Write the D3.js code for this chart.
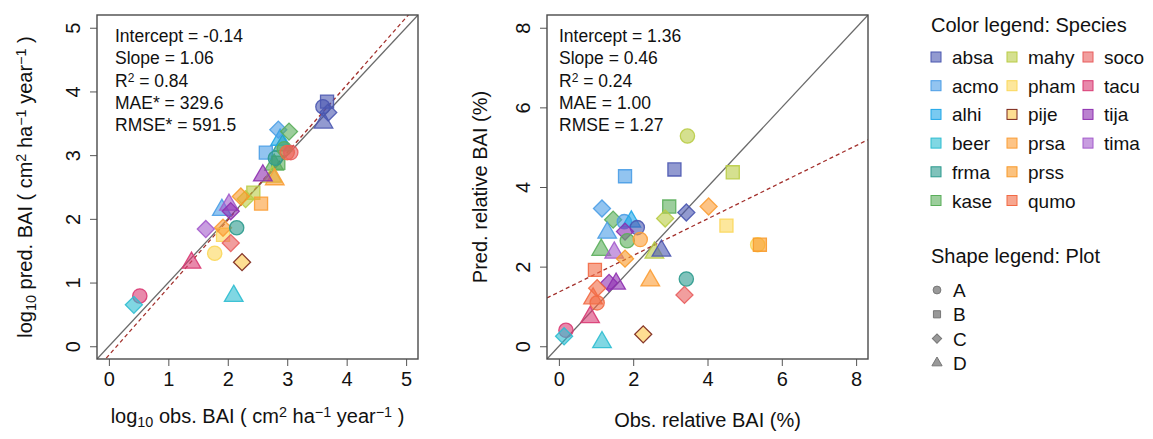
<!DOCTYPE html>
<html>
<head>
<meta charset="utf-8">
<script src="https://cdn.jsdelivr.net/npm/d3@7"></script>
<style>
  body { margin: 0; background: #fff; }
  text { font-family: "Liberation Sans", Arial, sans-serif; fill: #111; }
</style>
</head>
<body>
<script>
// Species colours and plot shapes
const species = ["absa", "acmo", "alhi", "beer", "frma", "kase", "mahy", "pham",
  "pije", "prsa", "prss", "qumo", "soco", "tacu", "tija", "tima"];
const speciesColors = ["#4a57b0", "#4a9de6", "#1fa7e8", "#2cbdd0", "#2b9a8d", "#5aae5a",
  "#b9cc45", "#fbd75a", "#fdc84a", "#fb9d35", "#f89a2a", "#f26a45", "#e85d5d",
  "#d93a73", "#8e2fb0", "#a35bcc"];
const plots = ["A", "B", "C", "D"];

// [species, plot, observed, predicted] - log10 BAI
const leftPoints = [
  ["kase", "D", 2.78, 2.85], ["frma", "D", 2.92, 3.15], ["alhi", "D", 2.88, 3.24],
  ["acmo", "C", 2.85, 3.40], ["kase", "C", 3.03, 3.37], ["acmo", "B", 2.64, 3.04],
  ["kase", "B", 2.85, 2.88], ["frma", "A", 2.80, 2.95], ["kase", "A", 2.95, 3.10],
  ["qumo", "A", 3.00, 3.04], ["soco", "A", 3.06, 3.04],
  ["absa", "B", 3.67, 3.84], ["absa", "A", 3.60, 3.76], ["absa", "C", 3.69, 3.67],
  ["absa", "D", 3.61, 3.51],
  ["mahy", "D", 2.75, 2.66], ["prsa", "D", 2.79, 2.62], ["tija", "D", 2.59, 2.68],
  ["mahy", "B", 2.43, 2.41], ["prsa", "B", 2.56, 2.24], ["mahy", "C", 2.30, 2.31],
  ["prss", "C", 2.22, 2.35], ["acmo", "D", 1.90, 2.14], ["tima", "D", 2.02, 2.22],
  ["tija", "C", 2.05, 2.12], ["pham", "B", 1.92, 1.75], ["prsa", "C", 1.92, 1.86],
  ["tima", "C", 1.63, 1.84], ["frma", "A", 2.15, 1.86], ["soco", "C", 2.05, 1.62],
  ["pham", "A", 1.78, 1.46], ["pije", "C", 2.24, 1.32], ["tacu", "D", 1.39, 1.31],
  ["tacu", "A", 0.52, 0.79], ["beer", "C", 0.42, 0.65], ["beer", "D", 2.10, 0.79]
];

// [species, plot, observed, predicted] - relative BAI (%)
const rightPoints = [
  ["mahy", "A", 3.46, 5.28], ["absa", "B", 3.11, 4.44], ["acmo", "B", 1.78, 4.27],
  ["mahy", "B", 4.68, 4.37], ["kase", "B", 2.97, 3.51], ["prsa", "C", 4.03, 3.51],
  ["pham", "B", 4.51, 3.03], ["pham", "A", 5.35, 2.55], ["prss", "B", 5.41, 2.55],
  ["acmo", "C", 1.16, 3.46], ["kase", "C", 1.46, 3.18], ["acmo", "A", 1.76, 3.13],
  ["alhi", "D", 1.95, 3.13], ["absa", "A", 2.11, 2.98], ["acmo", "D", 1.30, 2.85],
  ["tija", "C", 1.78, 2.88], ["kase", "A", 1.84, 2.65], ["prsa", "A", 2.19, 2.68],
  ["mahy", "C", 2.86, 3.21], ["absa", "C", 3.43, 3.36], ["kase", "D", 1.14, 2.42],
  ["tima", "D", 1.49, 2.35], ["mahy", "D", 2.57, 2.35], ["absa", "D", 2.76, 2.40],
  ["prss", "C", 1.78, 2.20], ["qumo", "B", 0.97, 1.92], ["prsa", "D", 2.46, 1.65],
  ["frma", "A", 3.43, 1.69], ["tija", "C", 1.35, 1.59], ["tija", "D", 1.54, 1.57],
  ["qumo", "C", 1.03, 1.46], ["qumo", "D", 0.92, 1.20], ["qumo", "A", 1.03, 1.09],
  ["soco", "C", 3.38, 1.29], ["tacu", "D", 0.84, 0.73], ["tacu", "A", 0.19, 0.40],
  ["beer", "C", 0.14, 0.25], ["beer", "D", 1.16, 0.10], ["pije", "C", 2.27, 0.30]
];

const leftTicks = [0, 1, 2, 3, 4, 5];
const rightTicks = [0, 2, 4, 6, 8];

// regression fits [intercept, slope]
const leftFit = [-0.14, 1.06];
const rightFit = [1.36, 0.46];

// stats lines: [label, superscript, rest]
const leftStats = [["Intercept", "", " = -0.14"], ["Slope", "", " = 1.06"], ["R", "2", " = 0.84"],
  ["MAE*", "", " = 329.6"], ["RMSE*", "", " = 591.5"]];
const rightStats = [["Intercept", "", " = 1.36"], ["Slope", "", " = 0.46"], ["R", "2", " = 0.24"],
  ["MAE", "", " = 1.00"], ["RMSE", "", " = 1.27"]];

// axis titles as pieces: [text, "sub"|"sup"|""]
const leftXTitle = [["log", ""], ["10", "sub"], [" obs. BAI ( cm", ""], ["2", "sup"], [" ha", ""], ["\u22121", "sup"], [" year", ""], ["\u22121", "sup"], [" )", ""]];
const leftYTitle = [["log", ""], ["10", "sub"], [" pred. BAI ( cm", ""], ["2", "sup"], [" ha", ""], ["\u22121", "sup"], [" year", ""], ["\u22121", "sup"], [" )", ""]];
const rightXTitle = [["Obs. relative BAI (%)", ""]];
const rightYTitle = [["Pred. relative BAI (%)", ""]];

const width = 1153;
const height = 439;
const svg = d3.select("body").append("svg").attr("width", width).attr("height", height);

const color = d3.scaleOrdinal().domain(species).range(speciesColors);

function shapePath(plot, big) {
  const k = big ? 1 : 0.3;
  if (plot === "A") return d3.symbol(d3.symbolCircle, 160 * k)();
  if (plot === "B") return d3.symbol(d3.symbolSquare, 170 * k)();
  if (plot === "C") return d3.symbol(d3.symbolSquare, 145 * k)();
  return d3.symbol(d3.symbolTriangle, 150 * k)();
}

function addPieces(textSel, pieces, size) {
  pieces.forEach(([t, kind]) => {
    const ts = textSel.append("tspan").text(t);
    if (kind === "sub") ts.attr("font-size", size * 0.72).attr("baseline-shift", "-25%");
    if (kind === "sup") ts.attr("font-size", size * 0.72).attr("baseline-shift", "40%");
  });
}

function panel(cfg) {
  const x = d3.scaleLinear().domain(cfg.domain).range([cfg.x0, cfg.x1]);
  const y = d3.scaleLinear().domain(cfg.domain).range([cfg.y1, cfg.y0]);
  const g = svg.append("g");

  const clipId = "clip" + cfg.id;
  svg.append("clipPath").attr("id", clipId)
    .append("rect").attr("x", cfg.x0).attr("y", cfg.y0)
    .attr("width", cfg.x1 - cfg.x0).attr("height", cfg.y1 - cfg.y0);

  // axes
  const xAxis = g.append("g").attr("transform", `translate(0,${cfg.y1})`)
    .call(d3.axisBottom(x).tickValues(cfg.ticks).tickSize(7).tickPadding(6).tickFormat(d3.format("d")));
  xAxis.select(".domain").remove();
  xAxis.selectAll("line").attr("stroke", "#555");
  xAxis.selectAll("text").attr("font-size", 20).attr("fill", "#111");

  const yAxis = g.append("g").attr("transform", `translate(${cfg.x0},0)`)
    .call(d3.axisLeft(y).tickValues(cfg.ticks).tickSize(7).tickFormat(d3.format("d")));
  yAxis.select(".domain").remove();
  yAxis.selectAll("line").attr("stroke", "#555");
  yAxis.selectAll("text").attr("font-size", 20).attr("fill", "#111")
    .attr("x", 0).attr("y", -17).attr("dy", 0)
    .attr("text-anchor", "middle").attr("transform", "rotate(-90)");

  // 1:1 and fitted lines
  const [lo, hi] = cfg.domain;
  const lines = g.append("g").attr("clip-path", `url(#${clipId})`);
  lines.append("line")
    .attr("x1", x(lo)).attr("y1", y(lo)).attr("x2", x(hi)).attr("y2", y(hi))
    .attr("stroke", "#6a6a6a").attr("stroke-width", 1.3);
  const [a, b] = cfg.fit;
  lines.append("line")
    .attr("x1", x(lo)).attr("y1", y(a + b * lo)).attr("x2", x(hi)).attr("y2", y(a + b * hi))
    .attr("stroke", "#a3302c").attr("stroke-width", 1.3).attr("stroke-dasharray", "4,3");

  // points
  g.append("g").selectAll("path").data(cfg.points).join("path")
    .attr("d", d => shapePath(d[1], true))
    .attr("transform", d => `translate(${x(d[2])},${y(d[3])})` + (d[1] === "C" ? " rotate(45)" : ""))
    .attr("fill", d => color(d[0])).attr("fill-opacity", 0.6)
    .attr("stroke", d => d[0] === "pije" ? "#7a2418" : color(d[0]))
    .attr("stroke-opacity", 0.9).attr("stroke-width", 1.3);

  // box
  g.append("rect").attr("x", cfg.x0).attr("y", cfg.y0)
    .attr("width", cfg.x1 - cfg.x0).attr("height", cfg.y1 - cfg.y0)
    .attr("fill", "none").attr("stroke", "#4a4a4a").attr("stroke-width", 1.4);

  // stats
  cfg.stats.forEach((s, i) => {
    const t = g.append("text").attr("x", cfg.x0 + cfg.statDx).attr("y", 42 + i * 22.3)
      .attr("font-size", 17.5);
    t.append("tspan").text(s[0]);
    if (s[1]) t.append("tspan").text(s[1]).attr("font-size", 12).attr("baseline-shift", "40%");
    t.append("tspan").text(s[2]);
  });

  // titles
  const xt = g.append("text").attr("x", (cfg.x0 + cfg.x1) / 2).attr("y", cfg.xTitleY)
    .attr("text-anchor", "middle").attr("font-size", 20);
  addPieces(xt, cfg.xTitle, 20);
  const yt = g.append("text")
    .attr("transform", `translate(${cfg.x0 - cfg.yTitleDx},${(cfg.y0 + cfg.y1) / 2}) rotate(-90)`)
    .attr("text-anchor", "middle").attr("font-size", 20);
  addPieces(yt, cfg.yTitle, 20);
}

panel({ id: "L", x0: 97, x1: 418, y0: 15, y1: 359, domain: [-0.2, 5.2], ticks: leftTicks,
  fit: leftFit, points: leftPoints, stats: leftStats, statDx: 18, xTitle: leftXTitle, yTitle: leftYTitle,
  xTitleY: 423, yTitleDx: 65 });
panel({ id: "R", x0: 547, x1: 868, y0: 15, y1: 359, domain: [-0.32, 8.32], ticks: rightTicks,
  fit: rightFit, points: rightPoints, stats: rightStats, statDx: 12, xTitle: rightXTitle, yTitle: rightYTitle,
  xTitleY: 427, yTitleDx: 60 });

// colour legend
const legend = svg.append("g");
legend.append("text").attr("x", 931).attr("y", 32).attr("font-size", 20).text("Color legend: Species");
const colX = [936, 1012, 1088];
const rowsPerCol = 6;
species.forEach((s, i) => {
  const cx = colX[Math.floor(i / rowsPerCol)];
  const cy = 57 + (i % rowsPerCol) * 28.7;
  legend.append("rect").attr("x", cx - 5).attr("y", cy - 5).attr("width", 10).attr("height", 10)
    .attr("fill", color(s)).attr("fill-opacity", 0.6)
    .attr("stroke", s === "pije" ? "#7a2418" : color(s)).attr("stroke-width", 1);
  legend.append("text").attr("x", cx + 16).attr("y", cy + 7).attr("font-size", 19).text(s);
});

// shape legend
legend.append("text").attr("x", 931).attr("y", 263).attr("font-size", 20).text("Shape legend: Plot");
plots.forEach((p, i) => {
  const cy = 290 + i * 24.3;
  legend.append("path").attr("d", shapePath(p, false))
    .attr("transform", `translate(937,${cy})` + (p === "C" ? " rotate(45)" : ""))
    .attr("fill", "#999").attr("stroke", "#777").attr("stroke-width", 1);
  legend.append("text").attr("x", 953).attr("y", cy + 7).attr("font-size", 19).text(p);
});
</script>
</body>
</html>
